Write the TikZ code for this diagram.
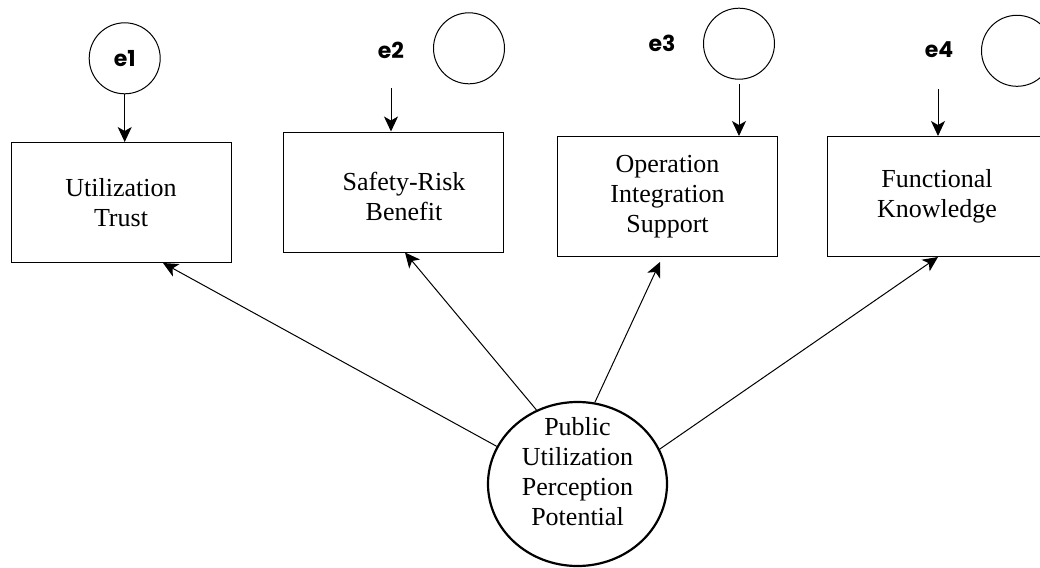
\documentclass[tikz,border=0pt]{standalone}
\usepackage{fontspec}
\setmainfont{Liberation Serif}
\newfontfamily\efont{Poppins}
\usetikzlibrary{positioning,arrows.meta,shapes.geometric}

\begin{document}
\begin{tikzpicture}[x=0.5pt,y=-0.5pt,
  obs/.style={draw,line width=0.5pt,minimum width=110pt,minimum height=60pt,align=center,
    font=\fontsize{13}{15}\selectfont},
  err/.style={draw,circle,line width=0.5pt,minimum size=35.5pt,inner sep=0pt,
    font=\efont\bfseries\fontsize{11}{13}\selectfont},
  elab/.style={font=\efont\bfseries\fontsize{11}{13}\selectfont},
  latent/.style={draw,ellipse,line width=1.1pt,minimum width=89.5pt,minimum height=82pt,inner sep=0pt},
  path/.style={line width=0.5pt,-{Stealth[length=7.5pt,width=7pt,inset=2pt]}}]
\useasboundingbox (0,0) rectangle (1040,568);
% observed variables
\node[obs] (ut) at (121,202.5) {Utilization\\Trust};
\node[obs] (srb) at (393,192) {\rule{0pt}{14pt}\hspace*{11pt}Safety-Risk\\\hspace*{11pt}Benefit};
\node[obs] (ois) at (667.5,196.5) {Operation\\Integration\\Support};
\node[obs] (fk) at (937,196.5) {Functional\\Knowledge};
% error terms
\node[err] (e1) at (124.7,58.3) {e1};
\node[err] (c2) at (469,48.3) {};
\node[err] (c3) at (739,43.7) {};
\node[err] (c4) at (1017,50.8) {};
\node[elab] (e2) at (391,50) {e2};
\node[elab] (e3) at (662,43) {e3};
\node[elab] (e4) at (939,50) {e4};
\coordinate (t2) at (391,88);
\coordinate (t3) at (739,84);
\coordinate (t4) at (938,89);
\draw[path] (e1.south) -- (e1.south |- ut.north);
\draw[path] (t2) -- (t2 |- srb.north);
\draw[path] (t3) -- (t3 |- ois.north);
\draw[path] (t4) -- (t4 |- fk.north);
% latent variable
\node[latent] (pupp) at (577.5,484) {};
\node[align=center,font=\fontsize{13}{15}\selectfont] (pupptxt) at (577.5,472)
  {Public\\Utilization\\Perception\\Potential};
\draw[path] (pupp.155.3) -- ([xshift=21pt]ut.south);
\draw[path] (pupp.119.3) -- ([xshift=6pt]srb.south);
\draw[path] (pupp.78) -- ([xshift=-3.75pt,yshift=-2.5pt]ois.south);
\draw[path] (pupp.23.1) -- ([xshift=0.5pt]fk.south);
\end{tikzpicture}
\end{document}
